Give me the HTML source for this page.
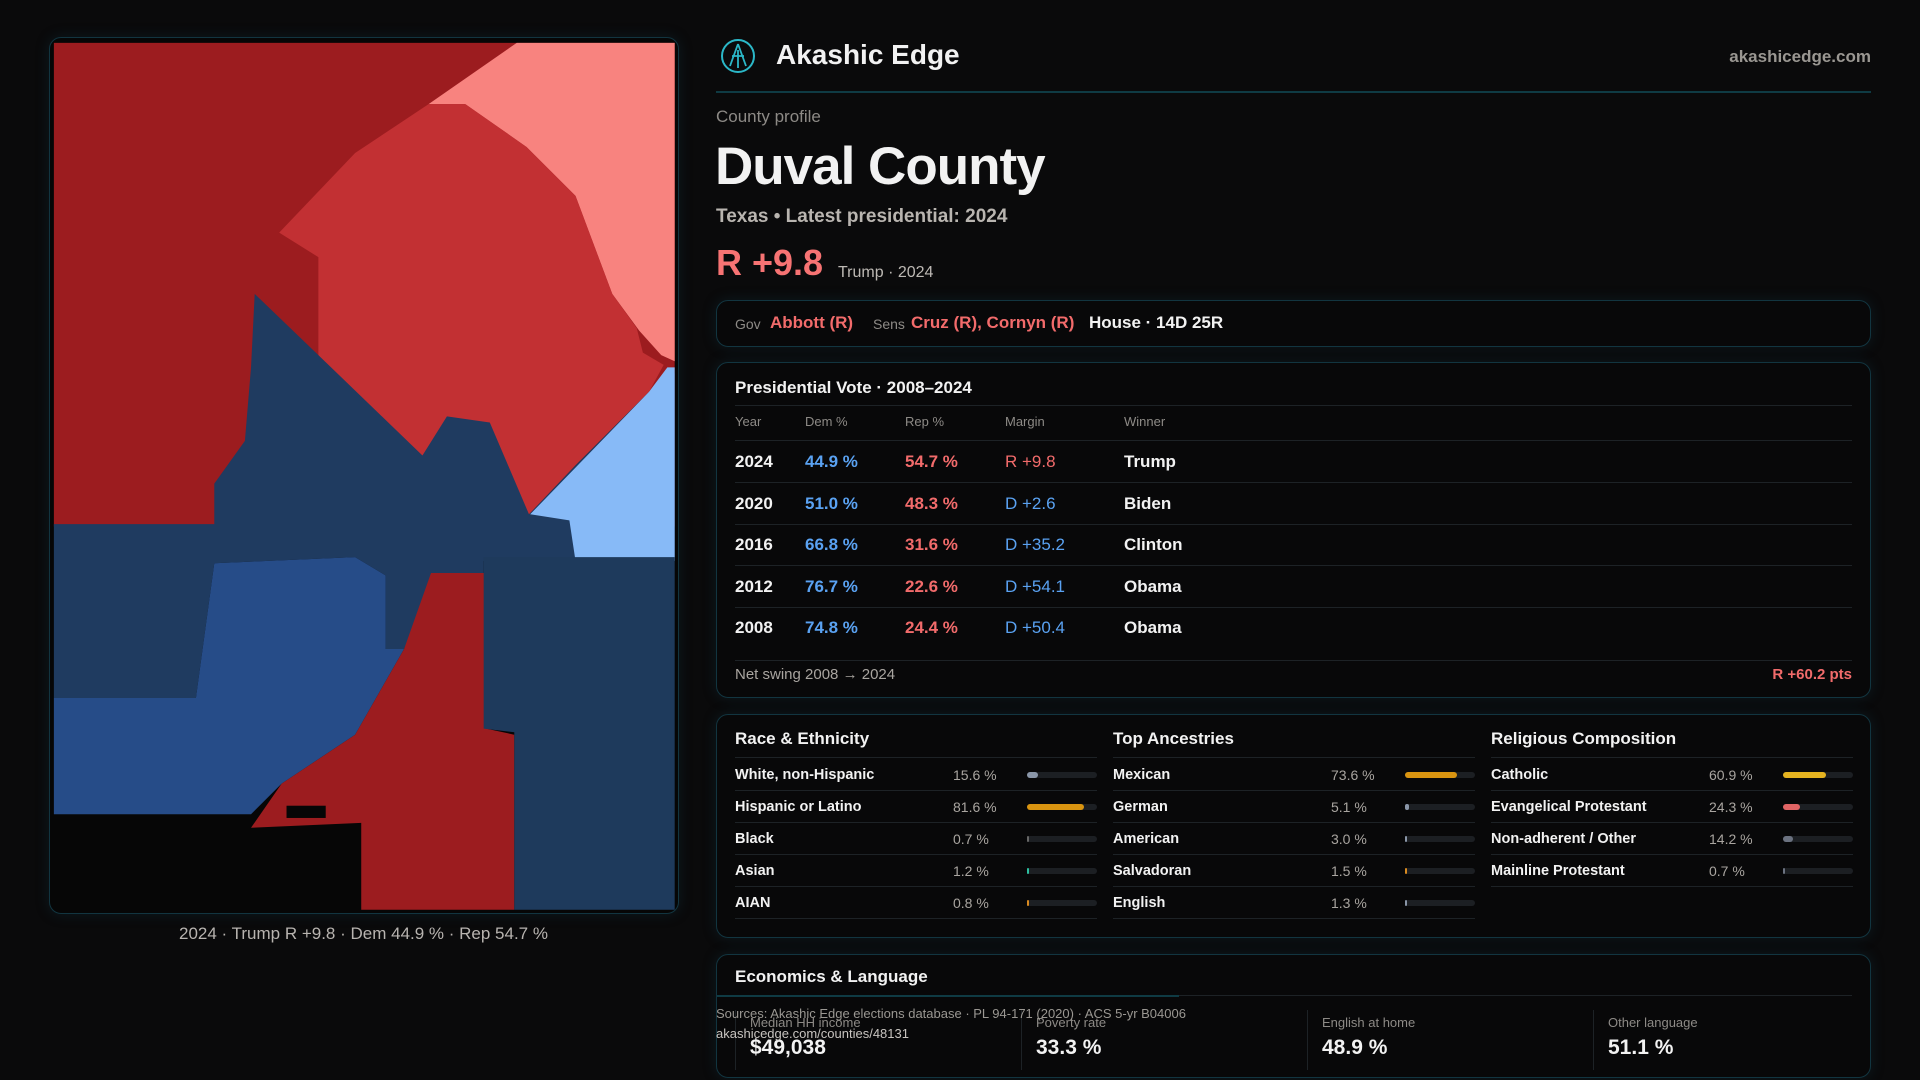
<!DOCTYPE html>
<html><head><meta charset="utf-8">
<style>
*{box-sizing:border-box;margin:0;padding:0}
body{width:1920px;height:1080px;background:#0a0a0b;font-family:"Liberation Sans",sans-serif;color:#f2f2f2;position:relative;overflow:hidden}
.abs{position:absolute;white-space:nowrap}
.card{position:absolute;border:1px solid #123540;border-radius:12px;background:#080809;box-shadow:0 0 14px rgba(20,70,90,0.25)}
.red{color:#f26b6b}.blue{color:#5aa2f2}.muted{color:#8d8a86}
.bar{position:absolute;height:6px;border-radius:3px;background:#1c1f23}
.fill{position:absolute;left:0;top:0;height:6px;border-radius:3px}
.line{position:absolute;height:1px;background:#1d2226}
</style></head><body>

<div class="card" style="left:49px;top:37px;width:630px;height:877px;background:#060606"></div>
<svg class="abs" style="left:0;top:0" width="1920" height="1080" viewBox="0 0 1568 882">
<rect x="44" y="35" width="507" height="395" fill="#9c1c1f"/>
<polygon fill="#f8837f" points="422,35 551,35 551,295 540,290 522,270 500,240 470,160 430,120 380,85 350,85"/>
<polygon fill="#c23033" points="228,190 290,125 350,85 380,85 430,120 470,160 500,240 520,268 525,288 542,298 530,320 470,380 432,420 345,372 290,330 260,290 260,210"/>
<polygon fill="#1f3b60" points="208,240 260,290 345,372 365,340 400,345 432,420 470,380 530,320 551,305 551,458 395,458 395,472 360,472 330,530 315,530 315,470 290,455 175,460 160,570 44,570 44,428 175,428 175,395 200,360 205,300"/>
<polygon fill="#264c88" points="175,460 290,455 315,470 315,530 330,530 290,600 230,640 205,665 44,665 44,570 160,570"/>
<polygon fill="#87baf7" points="433,420 530,320 545,300 551,300 551,458 470,458 465,425"/>
<polygon fill="#9c1c1f" points="330,530 352,468 397,468 397,595 420,600 420,743 295,743 295,672 205,676 230,640 290,600"/>
<polygon fill="#1e3a5c" points="395,455 551,455 551,743 420,743 420,598 395,595"/>
<rect x="234" y="658" width="32" height="10" fill="#060606"/>
</svg>
<div class="abs" style="left:0;width:727px;text-align:center;top:924px;font-size:17px;color:#b8b4b0">2024 · Trump R +9.8 · Dem 44.9 % · Rep 54.7 %</div>

<svg class="abs" style="left:720px;top:38px" width="36" height="36" viewBox="0 0 36 36"><circle cx="18" cy="18" r="16" fill="none" stroke="#2bb8c8" stroke-width="2"/><path d="M18 6 L10 28 M18 6 L26 28 M12 18 H24 M18 12 V30" stroke="#2bb8c8" stroke-width="1.8" fill="none"/></svg>
<div class="abs" style="left:776px;top:39px;font-size:28px;font-weight:bold">Akashic Edge</div>
<div class="abs muted" style="right:49px;top:47px;font-size:17px;font-weight:bold;color:#9a9792">akashicedge.com</div>
<div class="abs" style="left:716px;top:91px;width:1155px;height:2px;background:#0f3b44"></div>

<div class="abs muted" style="left:716px;top:107px;font-size:17px">County profile</div>
<div class="abs" style="left:715px;top:136px;font-size:53px;font-weight:bold;letter-spacing:-1px">Duval County</div>
<div class="abs" style="left:716px;top:206px;font-size:19px;color:#b9b5b0;font-weight:bold">Texas • Latest presidential: 2024</div>
<div class="abs red" style="left:716px;top:242px;font-size:36px;font-weight:bold;color:#f77373">R +9.8</div>
<div class="abs" style="left:838px;top:264px;font-size:16px;color:#bdb9b4">Trump · 2024</div>

<div class="card" style="left:716px;top:300px;width:1155px;height:47px">
<div class="abs" style="left:18px;top:15px;font-size:14px;color:#8d8a86">Gov</div>
<div class="abs red" style="left:53px;top:12px;font-size:17px;font-weight:bold">Abbott (R)</div>
<div class="abs" style="left:156px;top:15px;font-size:14px;color:#8d8a86">Sens</div>
<div class="abs red" style="left:194px;top:12px;font-size:17px;font-weight:bold">Cruz (R), Cornyn (R)</div>
<div class="abs" style="left:372px;top:12px;font-size:17px;font-weight:bold">House · 14D 25R</div>
</div>

<div class="card" style="left:716px;top:362px;width:1155px;height:336px">
<div class="abs" style="left:18px;top:15px;font-size:17px;font-weight:bold">Presidential Vote · 2008–2024</div>
<div class="line" style="left:18px;right:18px;top:42px"></div>
<div class="abs muted" style="left:18px;top:51px;font-size:13px">Year</div>
<div class="abs muted" style="left:88px;top:51px;font-size:13px">Dem %</div>
<div class="abs muted" style="left:188px;top:51px;font-size:13px">Rep %</div>
<div class="abs muted" style="left:288px;top:51px;font-size:13px">Margin</div>
<div class="abs muted" style="left:407px;top:51px;font-size:13px">Winner</div>
<div class="line" style="left:18px;right:18px;top:77px"></div>
<div id="rows"></div>
<div class="line" style="left:18px;right:18px;top:297px"></div>
<div class="abs muted" style="left:18px;top:303px;font-size:15px;color:#a9a5a0">Net swing 2008 → 2024</div>
<div class="abs red" style="right:18px;top:303px;font-size:15px;font-weight:bold">R +60.2 pts</div>
</div>

<div class="card" style="left:716px;top:714px;width:1155px;height:224px" id="demo"></div>

<div class="card" style="left:716px;top:954px;width:1155px;height:124px">
<div class="abs" style="left:18px;top:12px;font-size:17px;font-weight:bold">Economics &amp; Language</div>
<div class="line" style="left:18px;right:18px;top:40px"></div>
<div class="abs" style="left:0;top:40px;width:462px;height:2px;background:#0f3b44"></div>
<div id="econ"></div>
</div>
<div class="abs" style="left:716px;top:1006px;font-size:13px;color:#9a9792">Sources: Akashic Edge elections database · PL 94-171 (2020) · ACS 5-yr B04006</div>
<div class="abs" style="left:716px;top:1026px;font-size:13px;color:#c8c4c0">akashicedge.com/counties/48131</div>

<script>
const years=[2024,2020,2016,2012,2008];
const demPct=[44.9,51.0,66.8,76.7,74.8];
const repPct=[54.7,48.3,31.6,22.6,24.4];
const margins=["R +9.8","D +2.6","D +35.2","D +54.1","D +50.4"];
const winners=["Trump","Biden","Clinton","Obama","Obama"];

const raceLabels=["White, non-Hispanic","Hispanic or Latino","Black","Asian","AIAN"];
const raceValues=[15.6,81.6,0.7,1.2,0.8];
const raceColors=["#8a96a8","#d99410","#666","#2cc0a0","#d98a20"];
const ancLabels=["Mexican","German","American","Salvadoran","English"];
const ancValues=[73.6,5.1,3.0,1.5,1.3];
const ancColors=["#d99410","#8a96a8","#8a96a8","#d98a20","#8a96a8"];
const relLabels=["Catholic","Evangelical Protestant","Non-adherent / Other","Mainline Protestant"];
const relValues=[60.9,24.3,14.2,0.7];
const relColors=["#e5b320","#e06464","#6b7280","#6b7280"];

const econLabels=["Median HH income","Poverty rate","English at home","Other language"];
const econValues=["$49,038","33.3 %","48.9 %","51.1 %"];

const rows=document.getElementById('rows');
years.forEach((y,i)=>{
  const top=78+i*41.5;
  const isR=margins[i].charAt(0)==="R";
  const row=document.createElement('div');
  
  
  row.className='abs';
  row.style.cssText=`left:0;top:${top}px;width:100%;height:41px`;
  row.innerHTML=`<div class="abs" style="left:18px;top:11px;font-size:17px;font-weight:bold">${y}</div>
<div class="abs blue" style="left:88px;top:11px;font-size:17px;font-weight:bold">${demPct[i].toFixed(1)} %</div>
<div class="abs red" style="left:188px;top:11px;font-size:17px;font-weight:bold">${repPct[i].toFixed(1)} %</div>
<div class="abs ${isR?'red':'blue'}" style="left:288px;top:11px;font-size:17px">${margins[i]}</div>
<div class="abs" style="left:407px;top:11px;font-size:17px;font-weight:bold">${winners[i]}</div>`;
  rows.appendChild(row);
  if(i<years.length-1){const l=document.createElement('div');l.className='line';l.style.cssText=`left:18px;right:18px;top:${top+41}px`;rows.appendChild(l);}
});

const demo=document.getElementById('demo');
const groups=[["Race & Ethnicity",raceLabels,raceValues,raceColors],["Top Ancestries",ancLabels,ancValues,ancColors],["Religious Composition",relLabels,relValues,relColors]];
groups.forEach((g,gi)=>{
  const x=18+gi*378;
  const t=document.createElement('div');
  
  
  t.className='abs';t.style.cssText=`left:${x}px;top:14px;font-size:17px;font-weight:bold`;t.textContent=g[0];demo.appendChild(t);
  const l0=document.createElement('div');l0.className='line';l0.style.cssText=`left:${x}px;width:362px;top:42px`;demo.appendChild(l0);
  g[1].forEach((lab,i)=>{
    const top=43+i*32;
    const r=document.createElement('div');
    
    
    r.className='abs';r.style.cssText=`left:${x}px;top:${top}px;width:362px;height:32px`;
    const w=Math.max(1.5,g[2][i]/100*70);
    r.innerHTML=`<div class="abs" style="left:0;top:9px;font-size:14.5px;font-weight:bold">${lab}</div>
<div class="abs" style="left:218px;top:9px;font-size:14px;color:#a9a5a0">${g[2][i].toFixed(1)} %</div>
<div class="bar" style="left:292px;top:14px;width:70px"><div class="fill" style="width:${w}px;background:${g[3][i]}"></div></div>`;
    demo.appendChild(r);
    const l=document.createElement('div');l.className='line';l.style.cssText=`left:${x}px;width:362px;top:${top+32}px`;demo.appendChild(l);
  });
});

const econ=document.getElementById('econ');
econLabels.forEach((lab,i)=>{
  const x=18+i*286;
  const c=document.createElement('div');
  
  
  c.className='abs';c.style.cssText=`left:${x}px;top:55px;width:280px;height:60px;border-left:1px solid #1d2226`;
  c.innerHTML=`<div class="abs" style="left:14px;top:5px;font-size:13px;color:#8d8a86">${lab}</div>
<div class="abs" style="left:14px;top:26px;font-size:21px;font-weight:bold">${econValues[i]}</div>`;
  econ.appendChild(c);
});
</script>
</body></html>
